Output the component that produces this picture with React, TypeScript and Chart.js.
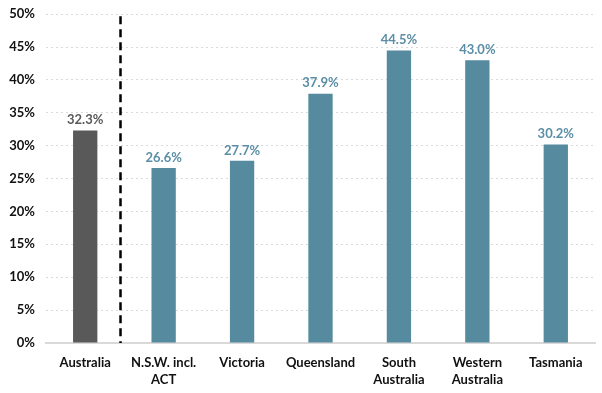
import React, { useEffect, useRef } from "react";
import { Chart, registerables } from "chart.js";
Chart.register(...registerables);

const categories: (string | string[])[] = [
  "Australia",
  ["N.S.W. incl.", "ACT"],
  "Victoria",
  "Queensland",
  ["South", "Australia"],
  ["Western", "Australia"],
  "Tasmania",
];
const values = [32.3, 26.6, 27.7, 37.9, 44.5, 43.0, 30.2];
const barColors = ["#595959", "#568A9F", "#568A9F", "#568A9F", "#568A9F", "#568A9F", "#568A9F"];
const labelColors = ["#595959", "#5B8EA6", "#5B8EA6", "#5B8EA6", "#5B8EA6", "#5B8EA6", "#5B8EA6"];

const FONT = "Lato, 'Open Sans', sans-serif";

const extras = {
  id: "extras",
  afterDatasetsDraw(chart: any) {
    const ctx = chart.ctx;
    const meta = chart.getDatasetMeta(0);
    ctx.save();
    ctx.font = `bold 13px ${FONT}`;
    ctx.textAlign = "center";
    ctx.textBaseline = "bottom";
    meta.data.forEach((bar: any, i: number) => {
      ctx.fillStyle = labelColors[i];
      ctx.fillText(values[i].toFixed(1) + "%", bar.x, bar.y - 4);
    });
    const xs = chart.scales.x;
    const ys = chart.scales.y;
    const x = xs.getPixelForValue(0.45);
    ctx.strokeStyle = "#000";
    ctx.lineWidth = 2.5;
    ctx.setLineDash([8, 5]);
    ctx.beginPath();
    ctx.moveTo(x, ys.getPixelForValue(50) + 2);
    ctx.lineTo(x, ys.getPixelForValue(0));
    ctx.stroke();
    ctx.restore();
  },
};

export default function App() {
  const ref = useRef<HTMLCanvasElement>(null);
  useEffect(() => {
    const chart = new Chart(ref.current!, {
      type: "bar",
      data: {
        labels: categories,
        datasets: [
          {
            data: values,
            backgroundColor: barColors,
            barPercentage: 0.31,
            categoryPercentage: 1,
          },
        ],
      },
      options: {
        animation: false,
        responsive: true,
        maintainAspectRatio: false,
        layout: { padding: { top: 13, right: 7, left: 0, bottom: 1 } },
        plugins: { legend: { display: false }, tooltip: { enabled: false } },
        scales: {
          x: {
            grid: { display: false },
            border: { display: true, color: "#D9D9D9", width: 2 },
            ticks: {
              color: "#111",
              font: { family: FONT, size: 13, weight: "bold", lineHeight: 1.35 },
              maxRotation: 0,
              autoSkip: false,
              padding: 3,
            },
          },
          y: {
            min: 0,
            max: 50,
            grid: { color: "#D9D9D9", drawTicks: false, lineWidth: 1 },
            border: { display: false, dash: [2, 3] },
            ticks: {
              stepSize: 5,
              color: "#111",
              padding: 11,
              font: { family: FONT, size: 13, weight: "bold", lineHeight: 0.5 },
              callback: (v: any) => v + "%",
            },
            afterFit: (s: any) => {
              s.width = 46;
            },
          },
        },
      },
      plugins: [extras],
    });
    return () => chart.destroy();
  }, []);
  return (
    <div style={{ position: "fixed", left: 0, top: 0, width: 602, height: 393, background: "#fff" }}>
      <canvas ref={ref} />
    </div>
  );
}
